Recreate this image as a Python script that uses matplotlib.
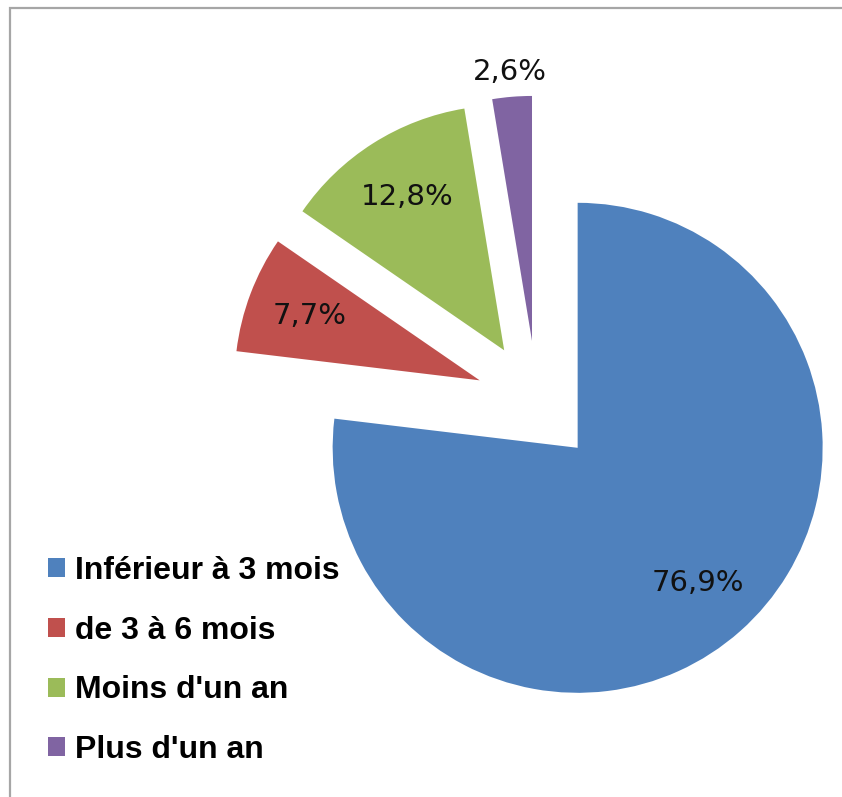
import numpy as np
import matplotlib
matplotlib.use('Agg')
import matplotlib.pyplot as plt
from matplotlib.patches import Rectangle

# data
labels = ['Inférieur à 3 mois', 'de 3 à 6 mois', "Moins d'un an", "Plus d'un an"]
values = [76.9, 7.7, 12.8, 2.6]
colors = ['#4F81BD', '#C0504D', '#9BBB59', '#8064A2']
explode = [0.25, 0.25, 0.25, 0.25]

W, H = 842, 797
R = 245.0          # pie radius in pixels
cx, cy = 537, 402  # pie centre in pixels (from top-left)

fig = plt.figure(figsize=(W / 100, H / 100), dpi=100)
ax = fig.add_axes([0, 0, 1, 1])

def fmt(p):
    return f'{p:.1f}%'.replace('.', ',')

wedges, texts, autotexts = ax.pie(values, colors=colors, explode=explode,
                                  startangle=90, counterclock=False,
                                  autopct=fmt, pctdistance=0.74,
                                  wedgeprops=dict(linewidth=0),
                                  textprops=dict(fontsize=21, color='#111111',
                                                 family='DejaVu Sans'))

# small slice label sits outside
w = wedges[3]
mid = np.deg2rad((w.theta1 + w.theta2) / 2)
autotexts[3].set_position((w.center[0] + 1.1 * np.cos(mid),
                           w.center[1] + 1.1 * np.sin(mid)))

ax.set_xlim(-cx / R, (W - cx) / R)
ax.set_ylim(-(H - cy) / R, cy / R)
ax.set_aspect('equal')
ax.axis('off')

leg = ax.legend(wedges, labels, loc='upper left',
                bbox_to_anchor=(48 / W, 1 - 556 / H), bbox_transform=fig.transFigure,
                frameon=False, borderpad=0, borderaxespad=0,
                handlelength=0.53, handleheight=0.53, handletextpad=0.32,
                labelspacing=0.93,
                prop=dict(family='Liberation Sans', weight='bold', size=23))

# chart area border
fig.patches.append(Rectangle((9.5 / W, -0.1), 1.2, (H - 8.5) / H + 0.1,
                             transform=fig.transFigure, fill=False,
                             edgecolor='#a6a6a6', linewidth=1.6))

fig.savefig('out.png', dpi=100, facecolor='white')
